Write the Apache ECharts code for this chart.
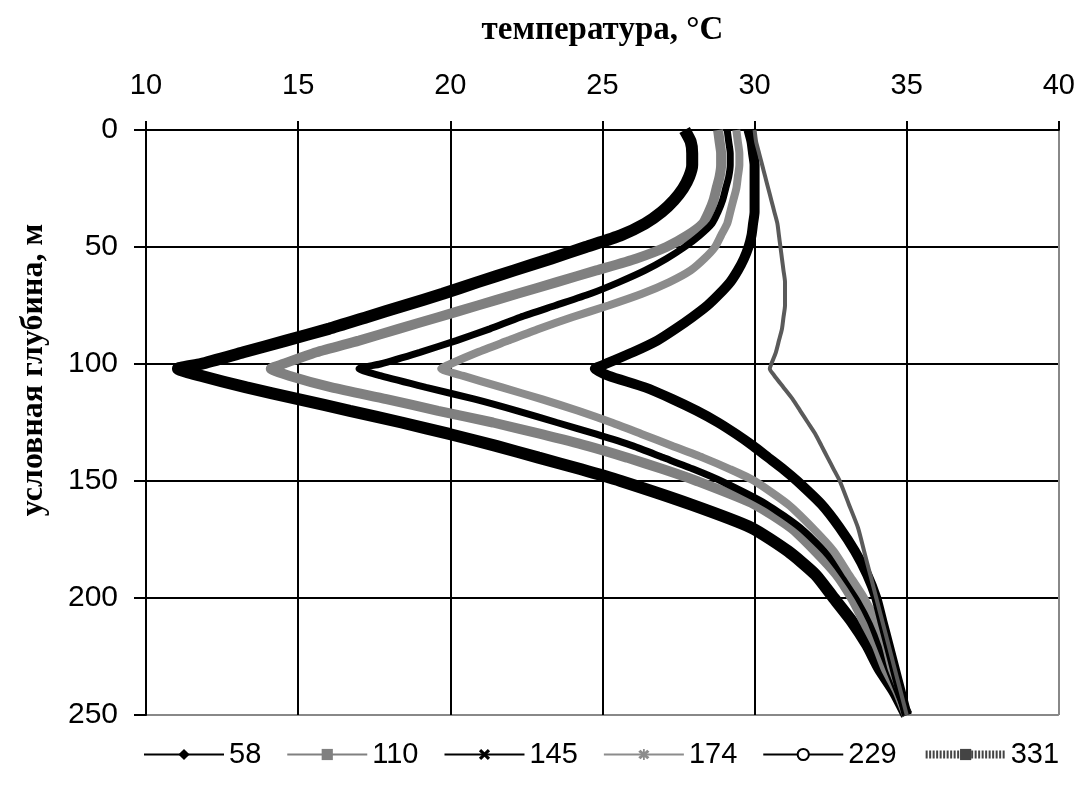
<!DOCTYPE html>
<html>
<head>
<meta charset="utf-8">
<script src="https://cdn.jsdelivr.net/npm/echarts@6/dist/echarts.min.js"></script>
<style>
html,body{margin:0;padding:0;background:#fff;}
#chart{width:1078px;height:786px;}
</style>
</head>
<body>
<div id="chart"></div>
<script>
// depth, m (y axis, inverted)
const depth = [0,5,10,15,20,25,30,35,40,45,50,55,60,65,70,75,80,85,90,95,100,102,105,110,115,120,125,130,135,140,145,150,160,170,180,190,200,210,220,230,240,250];
// temperature, °C for each series (one value per depth)
const t58  = [27.7,27.9,27.95,27.95,27.85,27.65,27.35,26.95,26.4,25.6,24.45,23.3,22.1,20.9,19.75,18.5,17.25,16.0,14.6,13.2,11.8,11.05,11.8,13.3,15.0,16.7,18.4,20.0,21.5,22.9,24.3,25.6,27.9,29.9,31.1,32.0,32.6,33.2,33.7,34.1,34.6,35.0];
const t110 = [28.8,28.85,28.9,28.9,28.85,28.75,28.65,28.5,28.3,27.8,27.1,26.1,24.8,23.5,22.2,20.9,19.6,18.3,17.0,15.6,14.5,14.1,14.7,16.1,17.9,19.6,21.4,23.0,24.5,25.8,27.0,28.1,30.0,31.2,32.0,32.7,33.2,33.6,34.0,34.3,34.7,35.0];
const t145 = [29.1,29.15,29.2,29.2,29.15,29.05,28.95,28.8,28.6,28.2,27.7,27.1,26.4,25.55,24.6,23.45,22.3,21.3,20.2,19.0,17.7,17.0,17.7,19.2,20.8,22.2,23.5,24.8,26.0,27.0,28.0,28.9,30.4,31.5,32.3,32.9,33.4,33.8,34.1,34.4,34.7,35.0];
const t174 = [29.4,29.45,29.5,29.5,29.45,29.4,29.3,29.2,29.1,28.9,28.7,28.35,27.9,27.2,26.3,25.2,24.0,22.9,21.9,20.9,20.0,19.7,20.4,21.7,23.0,24.2,25.3,26.3,27.3,28.3,29.2,30.0,31.1,31.9,32.6,33.1,33.6,34.0,34.3,34.5,34.8,35.0];
const t229 = [29.8,29.9,29.95,30.0,30.0,30.0,30.0,30.0,29.95,29.9,29.8,29.65,29.45,29.2,28.85,28.45,27.95,27.4,26.8,26.0,25.1,24.75,25.2,26.4,27.3,28.1,28.8,29.4,29.95,30.45,30.95,31.4,32.2,32.8,33.3,33.7,34.0,34.2,34.4,34.6,34.8,35.0];
const t331 = [30.0,30.05,30.15,30.25,30.35,30.45,30.55,30.65,30.75,30.8,30.85,30.9,30.95,31.0,31.0,31.0,30.95,30.9,30.8,30.7,30.55,30.5,30.65,30.95,31.25,31.5,31.75,32.0,32.2,32.4,32.6,32.8,33.1,33.4,33.6,33.8,34.0,34.2,34.4,34.6,34.8,35.0];
const seriesNames = ['58','110','145','174','229','331'];
const xTicks = [10,15,20,25,30,35,40];
const yTicks = [0,50,100,150,200,250];
const xTitle = 'температура, °C';
const yTitle = 'условная глубина, м';

const pair = t => depth.map((d,i)=>[t[i], d]);
const xSym = 'path://M2,0L5,3L8,0L10,2L7,5L10,8L8,10L5,7L2,10L0,8L3,5L0,2Z';
const starSym = 'path://M2,0L5,3L8,0L10,2L7,5L10,8L8,10L5,7L2,10L0,8L3,5L0,2Z M4.2,-1L5.8,-1L5.8,11L4.2,11Z';

const styles = [
  {data:t58,  color:'#000',    width:12, symbol:'diamond', size:13},
  {data:t110, color:'#808080', width:10, symbol:'rect', size:9},
  {data:t145, color:'#000',    width:7,  symbol:xSym, size:9},
  {data:t174, color:'#8c8c8c', width:8,  symbol:starSym, size:10},
  {data:t229, color:'#000',    width:10, symbol:'circle', size:9},
  {data:t331, color:'#5a5a5a', width:4,  symbol:'rect', size:3}
];

const series = styles.map((s,i)=>({
  name: seriesNames[i],
  type:'line',
  data: pair(s.data),
  smooth: 0.2,
  showSymbol:false,
  symbol: s.symbol,
  symbolSize: s.size,
  itemStyle:{color:s.color},
  lineStyle:{color:s.color, width:s.width},
  emphasis:{disabled:true},
  animation:false,
  z: 2+i
}));

const legendData = seriesNames.map((n,i)=>{
  if (i===4) return {name:n, itemStyle:{color:'#fff', borderColor:'#000', borderWidth:2}};
  if (i===5) return {name:n, lineStyle:{width:8, type:[2,1.5], color:'#444'}, itemStyle:{color:'#444'}};
  return {name:n};
});

const chart = echarts.init(document.getElementById('chart'), null, {renderer:'canvas'});
chart.setOption({
  animation:false,
  backgroundColor:'#fff',
  grid:{left:146, right:19, top:130, bottom:71, containLabel:false},
  legend:{
    bottom:12, left:138,
    itemWidth:80, itemHeight:14, itemGap:25,
    textStyle:{fontFamily:'Liberation Sans, Arial', fontSize:29, color:'#000'},
    lineStyle:{width:2},
    data: legendData
  },
  graphic:[{
    type:'text',
    x:34, y:370,
    rotation: Math.PI/2,
    style:{text:yTitle, fontFamily:'Liberation Serif, Times New Roman', fontWeight:'bold', fontSize:32, fill:'#000', align:'center', verticalAlign:'middle'}
  }],
  xAxis:{
    type:'value', position:'top', min:xTicks[0], max:xTicks[xTicks.length-1], interval:xTicks[1]-xTicks[0],
    name:xTitle, nameLocation:'middle', nameGap:83,
    nameTextStyle:{fontFamily:'Liberation Serif, Times New Roman', fontWeight:'bold', fontSize:33, color:'#000'},
    axisLine:{show:true, lineStyle:{color:'#000', width:2}},
    axisTick:{show:true, length:9, lineStyle:{color:'#000', width:2}},
    axisLabel:{margin:30, fontFamily:'Liberation Sans, Arial', fontSize:29, color:'#000'},
    splitLine:{show:true, lineStyle:{color:['#000','#000','#000','#000','#000','#000','#888'], width:2}}
  },
  yAxis:{
    type:'value', inverse:true, min:yTicks[0], max:yTicks[yTicks.length-1], interval:yTicks[1]-yTicks[0],
    axisLine:{show:true, lineStyle:{color:'#000', width:2}},
    axisTick:{show:true, length:12, lineStyle:{color:'#000', width:2}},
    axisLabel:{margin:28, fontFamily:'Liberation Sans, Arial', fontSize:30, color:'#000'},
    splitLine:{show:true, lineStyle:{color:['#000','#000','#000','#000','#000','#888'], width:2}}
  },
  series: series
});
</script>
</body>
</html>
